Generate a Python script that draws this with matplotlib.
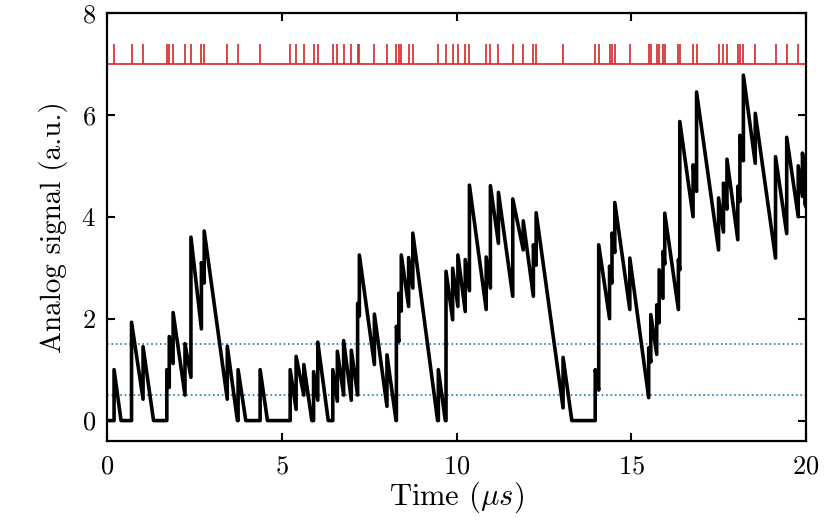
import matplotlib
matplotlib.use('Agg')
import matplotlib.pyplot as plt

plt.rcParams['font.family'] = 'serif'
plt.rcParams['font.serif'] = ['cmr10']
plt.rcParams['mathtext.fontset'] = 'cm'
plt.rcParams['axes.formatter.use_mathtext'] = True

# event times (us)
event_t = [0.20, 0.71, 1.03, 1.71, 1.78, 1.89, 2.23, 2.40, 2.70, 2.78, 3.44, 3.75,
           4.38, 5.24, 5.41, 5.63, 5.91, 6.03, 6.46, 6.59, 6.77, 6.99, 7.17, 7.22,
           7.65, 8.01, 8.28, 8.35, 8.42, 8.63, 8.75, 9.48, 9.70, 9.89, 10.04,
           10.25, 10.37, 10.85, 10.97, 11.20, 11.61, 11.91, 12.20, 12.28, 13.05,
           13.97, 14.07, 14.38, 14.45, 14.53, 14.96, 15.50, 15.56, 15.73, 15.80,
           15.91, 15.96, 16.35, 16.39, 16.77, 16.87, 17.50, 17.64, 17.74, 18.05,
           18.11, 18.21, 18.55, 19.13, 19.45, 19.78]

# analog signal vertices
sig_t = [0, 0.20, 0.20, 0.40, 0.70, 0.70, 1.03, 1.03, 1.33, 1.71, 1.71, 1.78, 1.78,
         1.89, 1.89, 2.23, 2.23, 2.40, 2.40, 2.70, 2.70, 2.78, 2.78, 3.44, 3.44,
         3.73, 3.75, 3.75, 3.97, 4.38, 4.38, 4.59, 5.24, 5.24, 5.41, 5.41, 5.63,
         5.63, 5.86, 5.91, 5.91, 6.03, 6.03, 6.33, 6.46, 6.46, 6.59, 6.59, 6.77,
         6.77, 6.99, 6.99, 7.17, 7.17, 7.22, 7.22, 7.65, 7.65, 8.01, 8.01, 8.27,
         8.28, 8.28, 8.35, 8.35, 8.42, 8.42, 8.63, 8.63, 8.75, 8.75, 9.46, 9.48,
         9.48, 9.68, 9.70, 9.70, 9.89, 9.89, 10.04, 10.04, 10.25, 10.25, 10.37,
         10.37, 10.85, 10.85, 10.97, 10.97, 11.20, 11.20, 11.61, 11.61, 11.91,
         11.91, 12.20, 12.20, 12.28, 12.28, 13.05, 13.05, 13.30, 13.97, 13.97,
         14.07, 14.07, 14.38, 14.38, 14.45, 14.45, 14.53, 14.53, 14.96, 14.96,
         15.50, 15.50, 15.56, 15.56, 15.73, 15.73, 15.80, 15.80, 15.91, 15.91,
         15.96, 15.96, 16.35, 16.35, 16.39, 16.39, 16.77, 16.77, 16.87, 16.87,
         17.50, 17.50, 17.64, 17.64, 17.74, 17.74, 18.05, 18.05, 18.11, 18.11,
         18.21, 18.21, 18.55, 18.55, 19.13, 19.13, 19.45, 19.45, 19.78, 19.78,
         19.90, 19.90, 19.97, 19.97, 20.0]
sig_y = [0, 0, 1.0, 0, 0, 1.93, 0.42, 1.45, 0, 0, 1.0, 0.65, 1.65,
         1.12, 2.12, 0.5, 1.51, 0.85, 3.6, 1.8, 3.1, 2.7, 3.72, 0.42, 1.46,
         0, 0, 1.0, 0, 0, 1.0, 0, 0, 1.0, 0.22, 1.26, 0.5,
         1.1, 0, 0, 0.96, 0.4, 1.54, 0, 0, 1.0, 0.38, 1.36, 0.5,
         1.57, 0.4, 1.38, 0.5, 2.3, 2.05, 3.25, 1.1, 2.09, 0.28, 1.29, 0,
         0, 1.85, 1.55, 2.5, 2.15, 3.25, 2.24, 3.2, 2.6, 3.68, 0, 0,
         1.0, 0, 0, 2.93, 1.98, 2.99, 2.24, 3.25, 2.14, 3.16, 2.55,
         4.62, 2.18, 3.21, 2.6, 4.61, 3.48, 4.48, 2.44, 4.35, 3.35,
         3.92, 2.44, 3.45, 3.05, 4.08, 0.25, 1.24, 0, 0, 1.0,
         0.6, 3.45, 2.0, 3.03, 2.7, 3.68, 3.3, 4.28, 2.18, 3.19,
         0.45, 1.43, 1.15, 2.08, 1.3, 2.27, 1.92, 2.96, 2.4, 3.32,
         3.07, 4.07, 2.18, 3.16, 2.96, 5.87, 4.0, 5.02, 4.5, 6.45,
         3.35, 4.37, 3.7, 4.66, 4.15, 5.13, 3.55, 4.6, 4.3, 5.6,
         5.1, 6.78, 5.05, 6.03, 3.19, 5.18, 3.67, 5.56, 4.0, 5.0,
         4.4, 5.25, 4.9, 4.25, 4.2]

thresholds = [0.5, 1.5]
event_base = 7.0
event_height = 0.4

fig = plt.figure(figsize=(8.3, 5.2), dpi=100)
ax = fig.add_axes([0.129, 0.152, 0.842, 0.823])

# threshold lines
for th in thresholds:
    ax.axhline(th, color='#1f77b4', ls=':', lw=1.2)

# event raster
ax.axhline(event_base, color='#d62728', lw=1.2)
ax.vlines(event_t, event_base, event_base + event_height, color='#d62728', lw=1.2)

ax.plot(sig_t, sig_y, color='k', lw=2.6)

ax.set_xlim(0, 20)
ax.set_ylim(-0.4, 8)
ax.set_xticks([0, 5, 10, 15, 20])
ax.set_yticks([0, 2, 4, 6, 8])
ax.tick_params(direction='in', top=True, right=True, length=6, width=1.5,
               labelsize=19)
ax.tick_params(axis='x', pad=10)
ax.tick_params(axis='y', pad=8)
for s in ax.spines.values():
    s.set_linewidth(1.6)
ax.set_xlabel(r'Time ($\mu s$)', fontsize=22, labelpad=1)
ax.set_ylabel('Analog signal (a.u.)', fontsize=21, labelpad=10)

fig.savefig('out.png', dpi=100)
